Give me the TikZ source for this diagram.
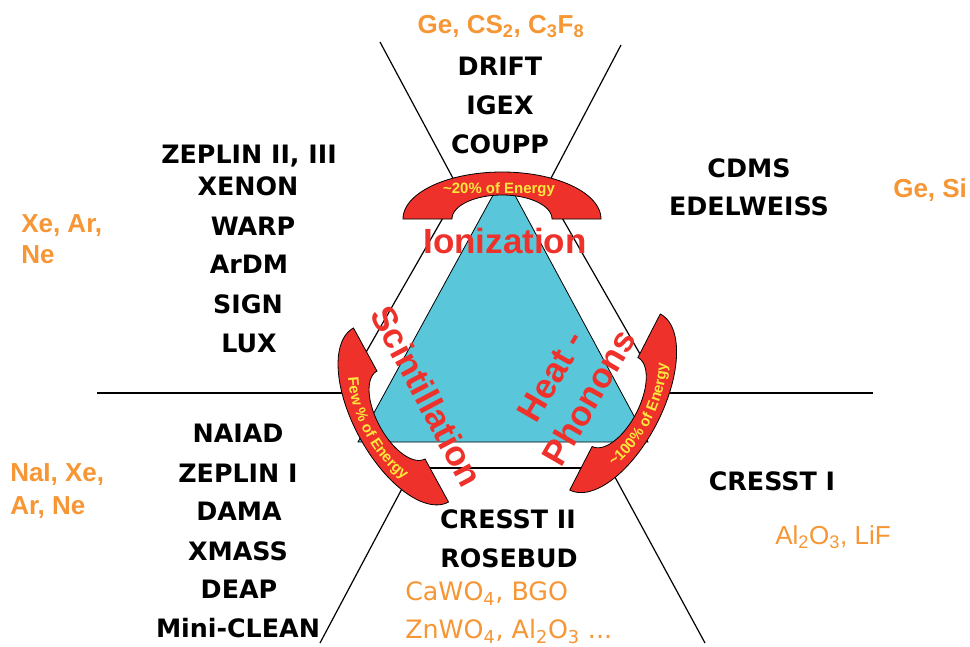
\documentclass[tikz,border=0pt]{standalone}
\usepackage{fontspec}
\setmainfont{Liberation Sans}
\newfontfamily\vfam{DejaVu Sans}
\newfontfamily\afam{Liberation Sans}
\newfontfamily\cfam{DejaVu Sans}
\usetikzlibrary{decorations.text}
\definecolor{lineorange}{RGB}{246,150,52}
\definecolor{arcred}{RGB}{238,50,43}
\definecolor{arcyellow}{RGB}{250,232,60}
\definecolor{tricyan}{RGB}{90,198,218}
\newcommand\myarcfont{\afam\bfseries\fontsize{11.2}{13}\selectfont}
\newcommand\myblockarc[6]{%
  \filldraw[arcshape] plot[domain=0:180,samples=73]
    ({#1+99*cos(\x)*(#3)+47*sin(\x)*(#5)},{#2+99*cos(\x)*(#4)+47*sin(\x)*(#6)})
    -- plot[domain=180:0,samples=73]
    ({#1+50*cos(\x)*(#3)+24*sin(\x)*(#5)},{#2+50*cos(\x)*(#4)+24*sin(\x)*(#6)}) -- cycle;}
\tikzset{
  sepline/.style={draw=black, line width=0.9pt},
  arcshape/.style={fill=arcred, draw=black, line width=0.6pt},
  tri/.style={fill=tricyan, draw=black, line width=0.6pt},
  lab/.style={font=\vfam\bfseries\fontsize{19}{22}\selectfont, inner sep=0pt, anchor=base},
  orb/.style={font=\afam\bfseries\fontsize{19.5}{23}\selectfont, text=lineorange, inner sep=0pt, anchor=base west},
  orr/.style={font=\afam\fontsize{19.5}{23}\selectfont, text=lineorange, inner sep=0pt, anchor=base west},
  orc/.style={font=\cfam\fontsize{19}{23}\selectfont, text=lineorange, inner sep=0pt, anchor=base west},
  bigred/.style={font=\afam\bfseries\fontsize{26.25}{33}\selectfont, text=arcred, inner sep=0pt},
  arctext/.style={font=\myarcfont, text=arcyellow, inner sep=0pt, anchor=base}
}
\begin{document}
\begin{tikzpicture}[x=0.75pt,y=-0.75pt]
\fill[white] (0,0) rectangle (970,646);
\useasboundingbox (0,0) rectangle (970,646);

% separating lines
\coordinate (tl1) at (380,42);  \coordinate (tl2) at (455,182);
\coordinate (tr1) at (621,45);  \coordinate (tr2) at (549,182);
\coordinate (ol1) at (444,216); \coordinate (ol2) at (357,368);
\coordinate (or1) at (561,216); \coordinate (or2) at (648,368);
\coordinate (ob1) at (420,468); \coordinate (ob2) at (590,468);
\coordinate (hl1) at (97,393);  \coordinate (hl2) at (350,393);
\coordinate (hr1) at (665,393); \coordinate (hr2) at (873,393);
\coordinate (bl1) at (405,483); \coordinate (bl2) at (320,643);
\coordinate (br1) at (610,468); \coordinate (br2) at (705,643);
\draw[sepline] (tl1) -- (tl2);
\draw[sepline] (tr1) -- (tr2);
\draw[sepline] (ol1) -- (ol2);
\draw[sepline] (or1) -- (or2);
\draw[sepline] (ob1) -- (ob2);
\draw[sepline] (hl1) -- (hl2);
\draw[sepline] (hr1) -- (hr2);
\draw[sepline] (bl1) -- (bl2);
\draw[sepline] (br1) -- (br2);

% cyan triangle
\coordinate (cA) at (504,175);
\coordinate (cB) at (358,442);
\coordinate (cC) at (648,442);
\filldraw[tri] (cA) -- (cB) -- (cC) -- cycle;

% red block arcs
\myblockarc{502}{219}{1}{0}{0}{-1}
\myblockarc{401}{415}{0.48}{0.879}{-0.879}{0.48}
\myblockarc{615}{402}{-0.457}{0.889}{0.889}{0.457}

% texts on arcs
\node[arctext] (e20) at (499,193) {\textasciitilde 20\% of Energy};
\path[decorate, decoration={text along path, text align=center, text color=arcyellow,
  text={|\myarcfont|Few {\%} of Energy}}]
  plot[domain=180:0,samples=73] ({401+81*cos(\x)*0.48+40.5*sin(\x)*(-0.879)},{415+81*cos(\x)*0.879+40.5*sin(\x)*0.48});
\path[decorate, decoration={text along path, text align=center, text color=arcyellow,
  text={|\myarcfont|{\textasciitilde}100{\%} of Energy}}]
  plot[domain=0:180,samples=73] ({615+81*cos(\x)*(-0.457)+40.5*sin(\x)*0.889},{402+81*cos(\x)*0.889+40.5*sin(\x)*0.457});

% big red labels
\node[bigred, anchor=base] (ion) at (505,253) {Ionization};
\node[bigred, rotate=-62] (scint) at (427,396) {Scintillation};
\node[bigred, rotate=60, align=center] (heat) at (570,387) {Heat -\\Phonons};

% black experiment labels
\node[lab] (drift) at (500,75) {DRIFT};
\node[lab] (igex) at (500,114) {IGEX};
\node[lab] (coupp) at (500,153) {COUPP};
\node[lab] (zep23) at (249,163) {ZEPLIN II, III};
\node[lab] (xenon) at (248,195) {XENON};
\node[lab] (warp) at (253,235) {WARP};
\node[lab] (ardm) at (249,273) {ArDM};
\node[lab] (sign) at (248,313) {SIGN};
\node[lab] (lux) at (249,352) {LUX};
\node[lab] (naiad) at (238,442) {NAIAD};
\node[lab] (zep1) at (238,482) {ZEPLIN I};
\node[lab] (dama) at (239,520) {DAMA};
\node[lab] (xmass) at (238,560) {XMASS};
\node[lab] (deap) at (239,598) {DEAP};
\node[lab] (mini) at (238,637) {Mini-CLEAN};
\node[lab] (cdms) at (749,177) {CDMS};
\node[lab] (edel) at (749,215) {EDELWEISS};
\node[lab] (cresst1) at (772,490) {CRESST I};
\node[lab] (cresst2) at (508,528) {CRESST II};
\node[lab] (rose) at (509,567) {ROSEBUD};

% orange material labels
\node[orb, anchor=base] (gecs) at (501,33) {Ge, CS\textsubscript{2}, C\textsubscript{3}F\textsubscript{8}};
\node[orb] (xe1) at (21,232) {Xe, Ar,};
\node[orb] (xe2) at (21,263) {Ne};
\node[orb] (na1) at (10,481) {NaI, Xe,};
\node[orb] (na2) at (10,514) {Ar, Ne};
\node[orb] (gesi) at (893,197) {Ge, Si};
\node[orr] (al) at (775,544) {Al\textsubscript{2}O\textsubscript{3}, LiF};
\node[orc] (cawo) at (405,600) {CaWO\textsubscript{4}, BGO};
\node[orc] (znwo) at (405,638) {ZnWO\textsubscript{4}, Al\textsubscript{2}O\textsubscript{3} ...};
\end{tikzpicture}
\end{document}
